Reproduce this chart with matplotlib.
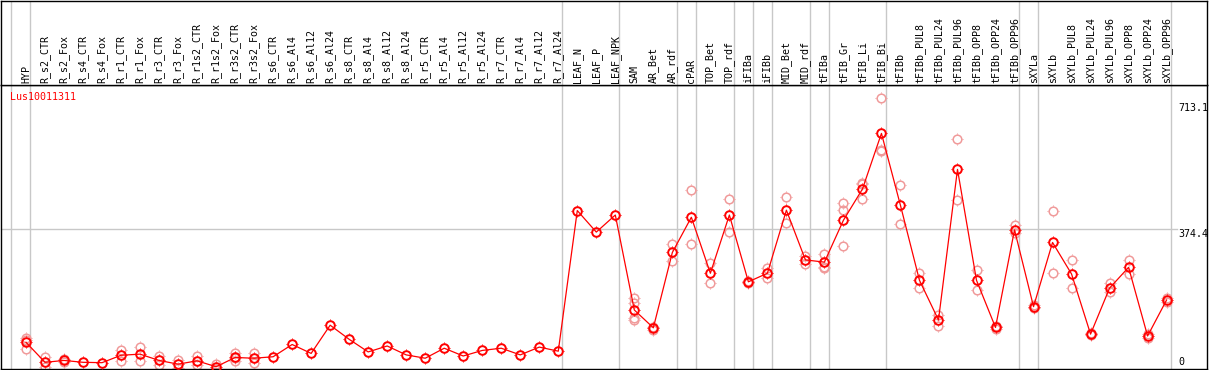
import matplotlib
matplotlib.use("Agg")
import matplotlib.pyplot as plt
import matplotlib.transforms as mtransforms
from matplotlib.path import Path

# ---------------- data ----------------
categories = [
    "HYP", "R_s2_CTR", "R_s2_Fox", "R_s4_CTR", "R_s4_Fox", "R_r1_CTR", "R_r1_Fox",
    "R_r3_CTR", "R_r3_Fox", "R_r1s2_CTR", "R_r1s2_Fox", "R_r3s2_CTR", "R_r3s2_Fox",
    "R_s6_CTR", "R_s6_Al4", "R_s6_Al12", "R_s6_Al24", "R_s8_CTR", "R_s8_Al4",
    "R_s8_Al12", "R_s8_Al24", "R_r5_CTR", "R_r5_Al4", "R_r5_Al12", "R_r5_Al24",
    "R_r7_CTR", "R_r7_Al4", "R_r7_Al12", "R_r7_Al24", "LEAF_N", "LEAF_P", "LEAF_NPK",
    "SAM", "AR_Bet", "AR_rdf", "cPAR", "TOP_Bet", "TOP_rdf", "iFIBa", "iFIBb",
    "MID_Bet", "MID_rdf", "tFIBa", "tFIB_Gr", "tFIB_Li", "tFIB_Bi", "tFIBb",
    "tFIBb_PUL8", "tFIBb_PUL24", "tFIBb_PUL96", "tFIBb_OPP8", "tFIBb_OPP24",
    "tFIBb_OPP96", "sXYLa", "sXYLb", "sXYLb_PUL8", "sXYLb_PUL24", "sXYLb_PUL96",
    "sXYLb_OPP8", "sXYLb_OPP24", "sXYLb_OPP96",
]

mean_values = [
    68, 14, 19, 14, 13, 33, 36, 19, 9, 18, 2, 27, 25,
    29, 62, 38, 114, 76, 42, 58, 34, 25, 52, 31, 46, 52, 34, 55, 44,
    423, 365, 411,
    155, 107, 310, 405, 254, 411, 231, 254, 424, 290, 284, 397, 481, 631,
    437, 235, 128, 534, 235, 108, 371,
    164, 337, 252, 90, 214, 270, 85, 182,
]

replicate_values = [
    [80, 74, 49], [29, 1], [23, 16], [], [], [47, 18], [54, 18],
    [32, 7], [20, 0], [32, 6], [10, -4], [40, 18, 26], [38, 11],
    [], [], [], [], [], [], [], [], [], [], [], [], [], [], [], [],
    [], [], [],
    [186, 174, 133, 128], [110, 102], [332, 287], [478, 332], [282, 228],
    [454, 366], [233, 229], [267, 240], [459, 389], [300, 279],
    [306, 272, 268], [443, 424, 327], [498, 494, 454], [726, 584, 587],
    [491, 387], [254, 214], [142, 112], [615, 452], [263, 210], [112, 104],
    [384, 362],
    [169, 160], [422, 254], [289, 214], [92, 88], [227, 204], [290, 252],
    [90, 80], [187, 176],
]

group_ends = [-1, 0, 28, 31, 34, 35, 37, 38, 39, 41, 42, 45, 52, 53, 60]

gene_name = "Lus10011311"
tick_values = [713.1, 374.4, 0]
tick_labels = ["713.1", "374.4", "0"]

# ---------------- layout ----------------
W, H = 1209, 370
fig = plt.figure(figsize=(W / 100, H / 100), dpi=100)

def fx(px):
    return px / W

def fy(py):
    return 1 - py / H

plot_left, plot_right = 1, 1207
plot_top, plot_bottom = 85, 368.7

ax = fig.add_axes([fx(plot_left), fy(plot_bottom),
                   fx(plot_right) - fx(plot_left), fy(plot_top) - fy(plot_bottom)])
hax = fig.add_axes([fx(plot_left), fy(plot_top),
                    fx(plot_right) - fx(plot_left), fy(0.5) - fy(plot_top)])

x0, dx = 26, 19.01
xlim = ((plot_left - x0) / dx, (plot_right - x0) / dx)
y0, sy = 367.5, 0.371
ylim = ((y0 - plot_bottom) / sy, (y0 - plot_top) / sy)

for a in (ax, hax):
    a.set_xlim(*xlim)
    a.set_xticks([])
    a.set_yticks([])
    for s in a.spines.values():
        s.set_color("black")
        s.set_linewidth(1.0)
ax.set_ylim(*ylim)
hax.set_ylim(0, plot_top)

font = "DejaVu Sans Mono"
fs = 7.2
grey = "#c8c8c8"

for k in group_ends:
    for a in (ax, hax):
        a.axvline(k + 0.22, color=grey, lw=1.0, zorder=1)

# horizontal reference line
xmax_frac = (1177 - plot_left) / (plot_right - plot_left)
ax.axhline(tick_values[1], xmin=0, xmax=xmax_frac, color=grey, lw=1.0, zorder=1)

# header labels
for i, c in enumerate(categories):
    hax.text(i, 2, c, rotation=90, ha="center", va="bottom",
             fontsize=fs, family=font, color="black")

# small tick marks around the circles
r = 0.8
tick_path = Path([(r, 0), (1, 0), (-r, 0), (-1, 0), (0, r), (0, 1), (0, -r), (0, -1)],
                 [Path.MOVETO, Path.LINETO] * 4)

def draw_markers(xv, yv, color, mew, z):
    ax.plot(xv, yv, linestyle="none", marker="o", markersize=6.2,
            mfc="none", mec=color, mew=mew, zorder=z)
    ax.plot(xv, yv, linestyle="none", marker=tick_path, markersize=8.4,
            mfc="none", mec=color, mew=0.7, zorder=z)

# replicates
rx, ry = [], []
for i, reps in enumerate(replicate_values):
    for v in reps:
        rx.append(i)
        ry.append(v)
draw_markers(rx, ry, "#f09a9a", 1.1, 2)

xs = list(range(len(categories)))
ax.plot(xs, mean_values, color="red", lw=0.9, zorder=3)
draw_markers(xs, mean_values, "red", 1.4, 4)

# right value labels
tr = mtransforms.blended_transform_factory(ax.transAxes, ax.transData)
lab_x = (1178 - plot_left) / (plot_right - plot_left)
for v, t in zip(tick_values, tick_labels):
    va = "bottom" if v == 0 else "top"
    ax.text(lab_x, v if v != 0 else 1, t, transform=tr, ha="left", va=va,
            fontsize=fs, family=font, color="black", zorder=5)

fig.text(fx(10), fy(97.5), gene_name, ha="left", va="center",
         fontsize=fs, family=font, color="red")

fig.savefig("out.png", dpi=100)
